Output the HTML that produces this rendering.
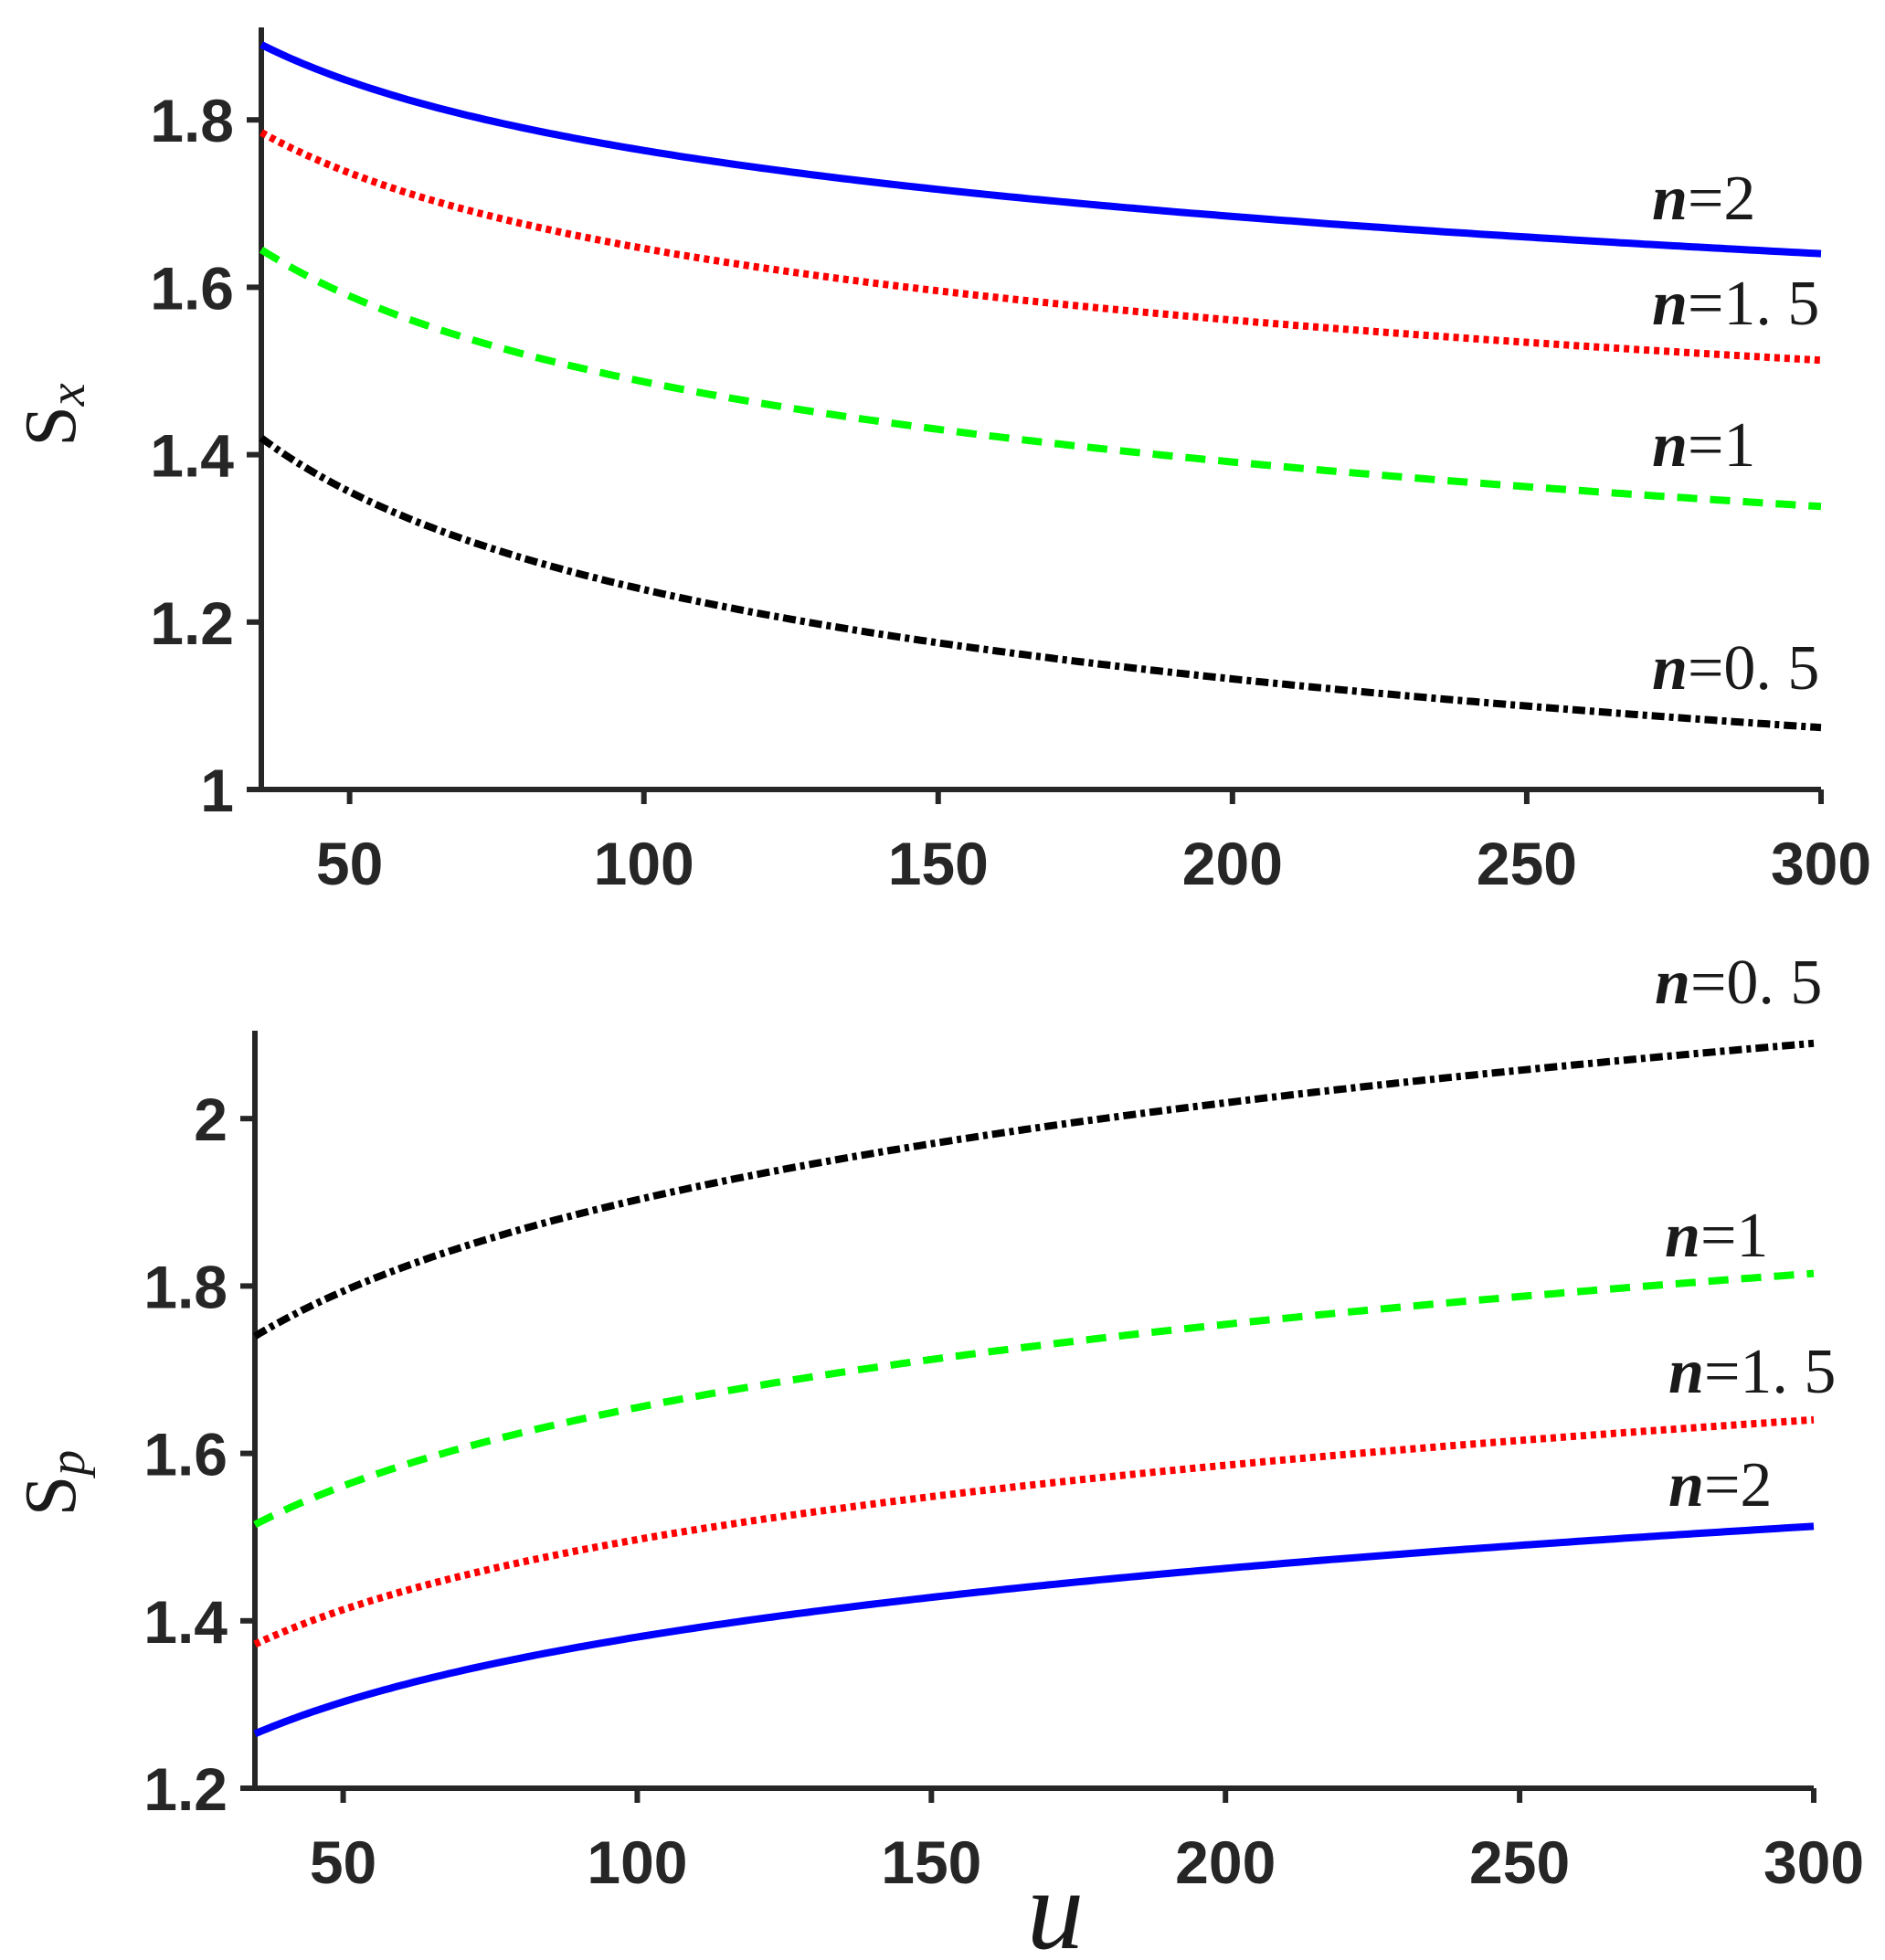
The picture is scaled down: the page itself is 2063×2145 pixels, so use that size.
<!DOCTYPE html>
<html><head><meta charset="utf-8"><style>
html,body{margin:0;padding:0;background:#fff;}
svg{display:block;}
.t{font-family:"Liberation Sans",sans-serif;font-weight:bold;font-size:66px;fill:#262626;}
.n{font-family:"Liberation Serif",serif;font-size:70px;fill:#1a1a1a;}
</style></head><body>
<svg id="s" width="2063" height="2145" viewBox="0 0 2063 2145" xmlns="http://www.w3.org/2000/svg">
<g id="g"></g>
<text class="n" x="1808" y="240"><tspan font-style="italic" font-weight="bold">n</tspan>=2</text>
<text class="n" x="1808" y="355"><tspan font-style="italic" font-weight="bold">n</tspan>=1. 5</text>
<text class="n" x="1808" y="510"><tspan font-style="italic" font-weight="bold">n</tspan>=1</text>
<text class="n" x="1808" y="754"><tspan font-style="italic" font-weight="bold">n</tspan>=0. 5</text>
<text class="n" x="1811" y="1098"><tspan font-style="italic" font-weight="bold">n</tspan>=0. 5</text>
<text class="n" x="1822" y="1375"><tspan font-style="italic" font-weight="bold">n</tspan>=1</text>
<text class="n" x="1826" y="1524"><tspan font-style="italic" font-weight="bold">n</tspan>=1. 5</text>
<text class="n" x="1826" y="1648"><tspan font-style="italic" font-weight="bold">n</tspan>=2</text>
<text font-family="Liberation Serif,serif" font-size="80" fill="#1a1a1a" transform="translate(82,454) rotate(-90)" text-anchor="middle">S<tspan font-style="italic" font-size="56" dy="10">x</tspan></text>
<text font-family="Liberation Serif,serif" font-size="80" fill="#1a1a1a" transform="translate(82,1623) rotate(-90)" text-anchor="middle">S<tspan font-style="italic" font-size="56" dy="10">p</tspan></text>
<text font-family="Liberation Serif,serif" font-style="italic" font-size="125" fill="#1a1a1a" x="1155" y="2132" text-anchor="middle">u</text>
</svg>
<script>
var g=document.getElementById('g'),h='';
function ax(x0,x1,yb,yt,ymin,yticks){
  var px=function(u){return x0+(u-35)*(x1-x0)/265;};
  var py=function(v){return yb-(v-ymin)*916;};
  h+='<path d="M'+x0+' '+yt+'V'+yb+'H'+x1+'" fill="none" stroke="#262626" stroke-width="6"/>';
  [50,100,150,200,250,300].forEach(function(u){var x=px(u);
    h+='<line x1="'+x+'" y1="'+yb+'" x2="'+x+'" y2="'+(yb+16)+'" stroke="#262626" stroke-width="6"/>';
    h+='<text class="t" x="'+x+'" y="'+(yb+104)+'" text-anchor="middle">'+u+'</text>';});
  yticks.forEach(function(v){var y=py(v);
    h+='<line x1="'+x0+'" y1="'+y+'" x2="'+(x0-16)+'" y2="'+y+'" stroke="#262626" stroke-width="6"/>';
    h+='<text class="t" x="'+(x0-30)+'" y="'+(y+24)+'" text-anchor="end">'+v+'</text>';});
  return [px,py];
}
function curve(f,a,b,col,dash){
  var d='';for(var u=35;u<=300;u+=1){var v=a*Math.pow(u/35,b);d+=(u==35?'M':'L')+f[0](u).toFixed(1)+' '+f[1](v).toFixed(1);}
  h+='<path d="'+d+'" fill="none" stroke="'+col+'" stroke-width="8"'+(dash?' stroke-dasharray="'+dash+'"':'')+'/>';
}
var A=ax(286,1993,864,30,1,[1,1.2,1.4,1.6,1.8]);
curve(A,1.89,-0.066,'#0000ff','');
curve(A,1.785,-0.077,'#ff0000','6 5');
curve(A,1.645,-0.0961,'#00ff00','22 14');
curve(A,1.42,-0.1300,'#000','14 5 5 5');
var B=ax(279,1985,1957,1128,1.2,[1.2,1.4,1.6,1.8,2]);
curve(B,1.265,0.0833,'#0000ff','');
curve(B,1.372,0.0831,'#ff0000','6 5');
curve(B,1.515,0.0841,'#00ff00','22 14');
curve(B,1.74,0.0853,'#000','14 5 5 5');
g.innerHTML=h;
</script>
</body></html>
